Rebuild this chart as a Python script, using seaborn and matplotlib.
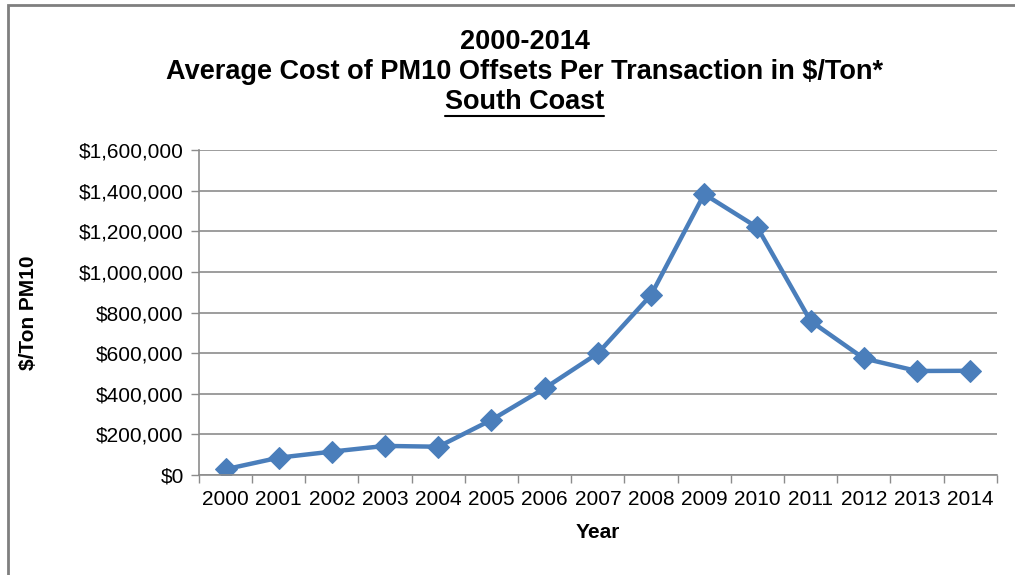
import matplotlib
matplotlib.use("Agg")
import matplotlib.pyplot as plt
import seaborn as sns
import pandas as pd
from matplotlib.patches import Rectangle
from matplotlib.lines import Line2D
from matplotlib.ticker import FuncFormatter, FixedLocator

# data
years = ["2000", "2001", "2002", "2003", "2004", "2005", "2006", "2007",
         "2008", "2009", "2010", "2011", "2012", "2013", "2014"]
cost_per_ton = [28000, 85000, 115000, 143000, 139000, 271000, 427000, 599000,
                886000, 1383000, 1219000, 758000, 574000, 512000, 513000]

title_lines = ["2000-2014",
               "Average Cost of PM10 Offsets Per Transaction in $/Ton*",
               "South Coast"]

sns.set_style("white")
plt.rcParams["font.family"] = ["Liberation Sans", "DejaVu Sans"]
plt.rcParams["text.parse_math"] = False
plt.rcParams["text.color"] = "black"
plt.rcParams["axes.labelcolor"] = "black"
plt.rcParams["xtick.labelcolor"] = "black"
plt.rcParams["ytick.labelcolor"] = "black"

df = pd.DataFrame({"year": years, "cost": cost_per_ton})

fig = plt.figure(figsize=(10.15, 5.75), dpi=100)
ax = fig.add_axes([0.196, 0.174, 0.786, 0.565])

line_color = "#4a7ebb"
sns.lineplot(data=df, x="year", y="cost", ax=ax, color=line_color,
             linewidth=3.2, marker="D", markersize=11,
             markeredgecolor=line_color, sort=False)

ax.set_ylim(0, 1600000)
ax.set_xlim(-0.5, len(years) - 0.5)
ax.set_yticks(range(0, 1600001, 200000))
ax.yaxis.set_major_formatter(FuncFormatter(lambda v, p: "${:,.0f}".format(v)))
ax.grid(axis="y", color="#8c8c8c", linewidth=1.2)
ax.set_axisbelow(True)

# Excel-style category ticks between labels
ax.xaxis.set_minor_locator(FixedLocator([i - 0.5 for i in range(len(years) + 1)]))
ax.tick_params(axis="x", which="major", length=0, pad=11, labelsize=15, labelcolor="black")
ax.tick_params(axis="x", which="minor", length=6, width=1, color="#8c8c8c", direction="out", bottom=True)
ax.tick_params(axis="y", which="major", length=6, width=1, color="#8c8c8c", direction="out",
               left=True, labelsize=15, pad=5, labelcolor="black")

for s in ["top", "right"]:
    ax.spines[s].set_visible(False)
for s in ["left", "bottom"]:
    ax.spines[s].set_color("#8c8c8c")
    ax.spines[s].set_linewidth(1.2)

ax.set_xlabel("Year", fontsize=15, fontweight="bold", va="center")
ax.set_ylabel("$/Ton PM10", fontsize=15, fontweight="bold", va="center")
ax.xaxis.set_label_coords((598 - 199) / 798, (475 - 533) / 325)
ax.yaxis.set_label_coords((29 - 199) / 798, (475 - 313) / 325)

# title, three lines, the last one underlined
cx = 0.517
fs = 19.5
fig.text(cx, 1 - 42 / 575, title_lines[0], ha="center", va="center", fontsize=fs, fontweight="bold")
fig.text(cx, 1 - 72 / 575, title_lines[1], ha="center", va="center", fontsize=fs, fontweight="bold")
t3 = fig.text(cx, 1 - 102 / 575, title_lines[2], ha="center", va="center", fontsize=fs, fontweight="bold")

fig.canvas.draw()
bb = t3.get_window_extent().transformed(fig.transFigure.inverted())
fig.add_artist(Line2D([bb.x0, bb.x1], [1 - 116 / 575] * 2, color="black",
                      linewidth=1.5, transform=fig.transFigure))

# outer chart border
fig.add_artist(Rectangle((8 / 1015, -0.01), 1.0, 1 - 5 / 575 + 0.01, transform=fig.transFigure,
                         fill=False, edgecolor="#7f7f7f", linewidth=2))

fig.savefig("out.png", dpi=100)
